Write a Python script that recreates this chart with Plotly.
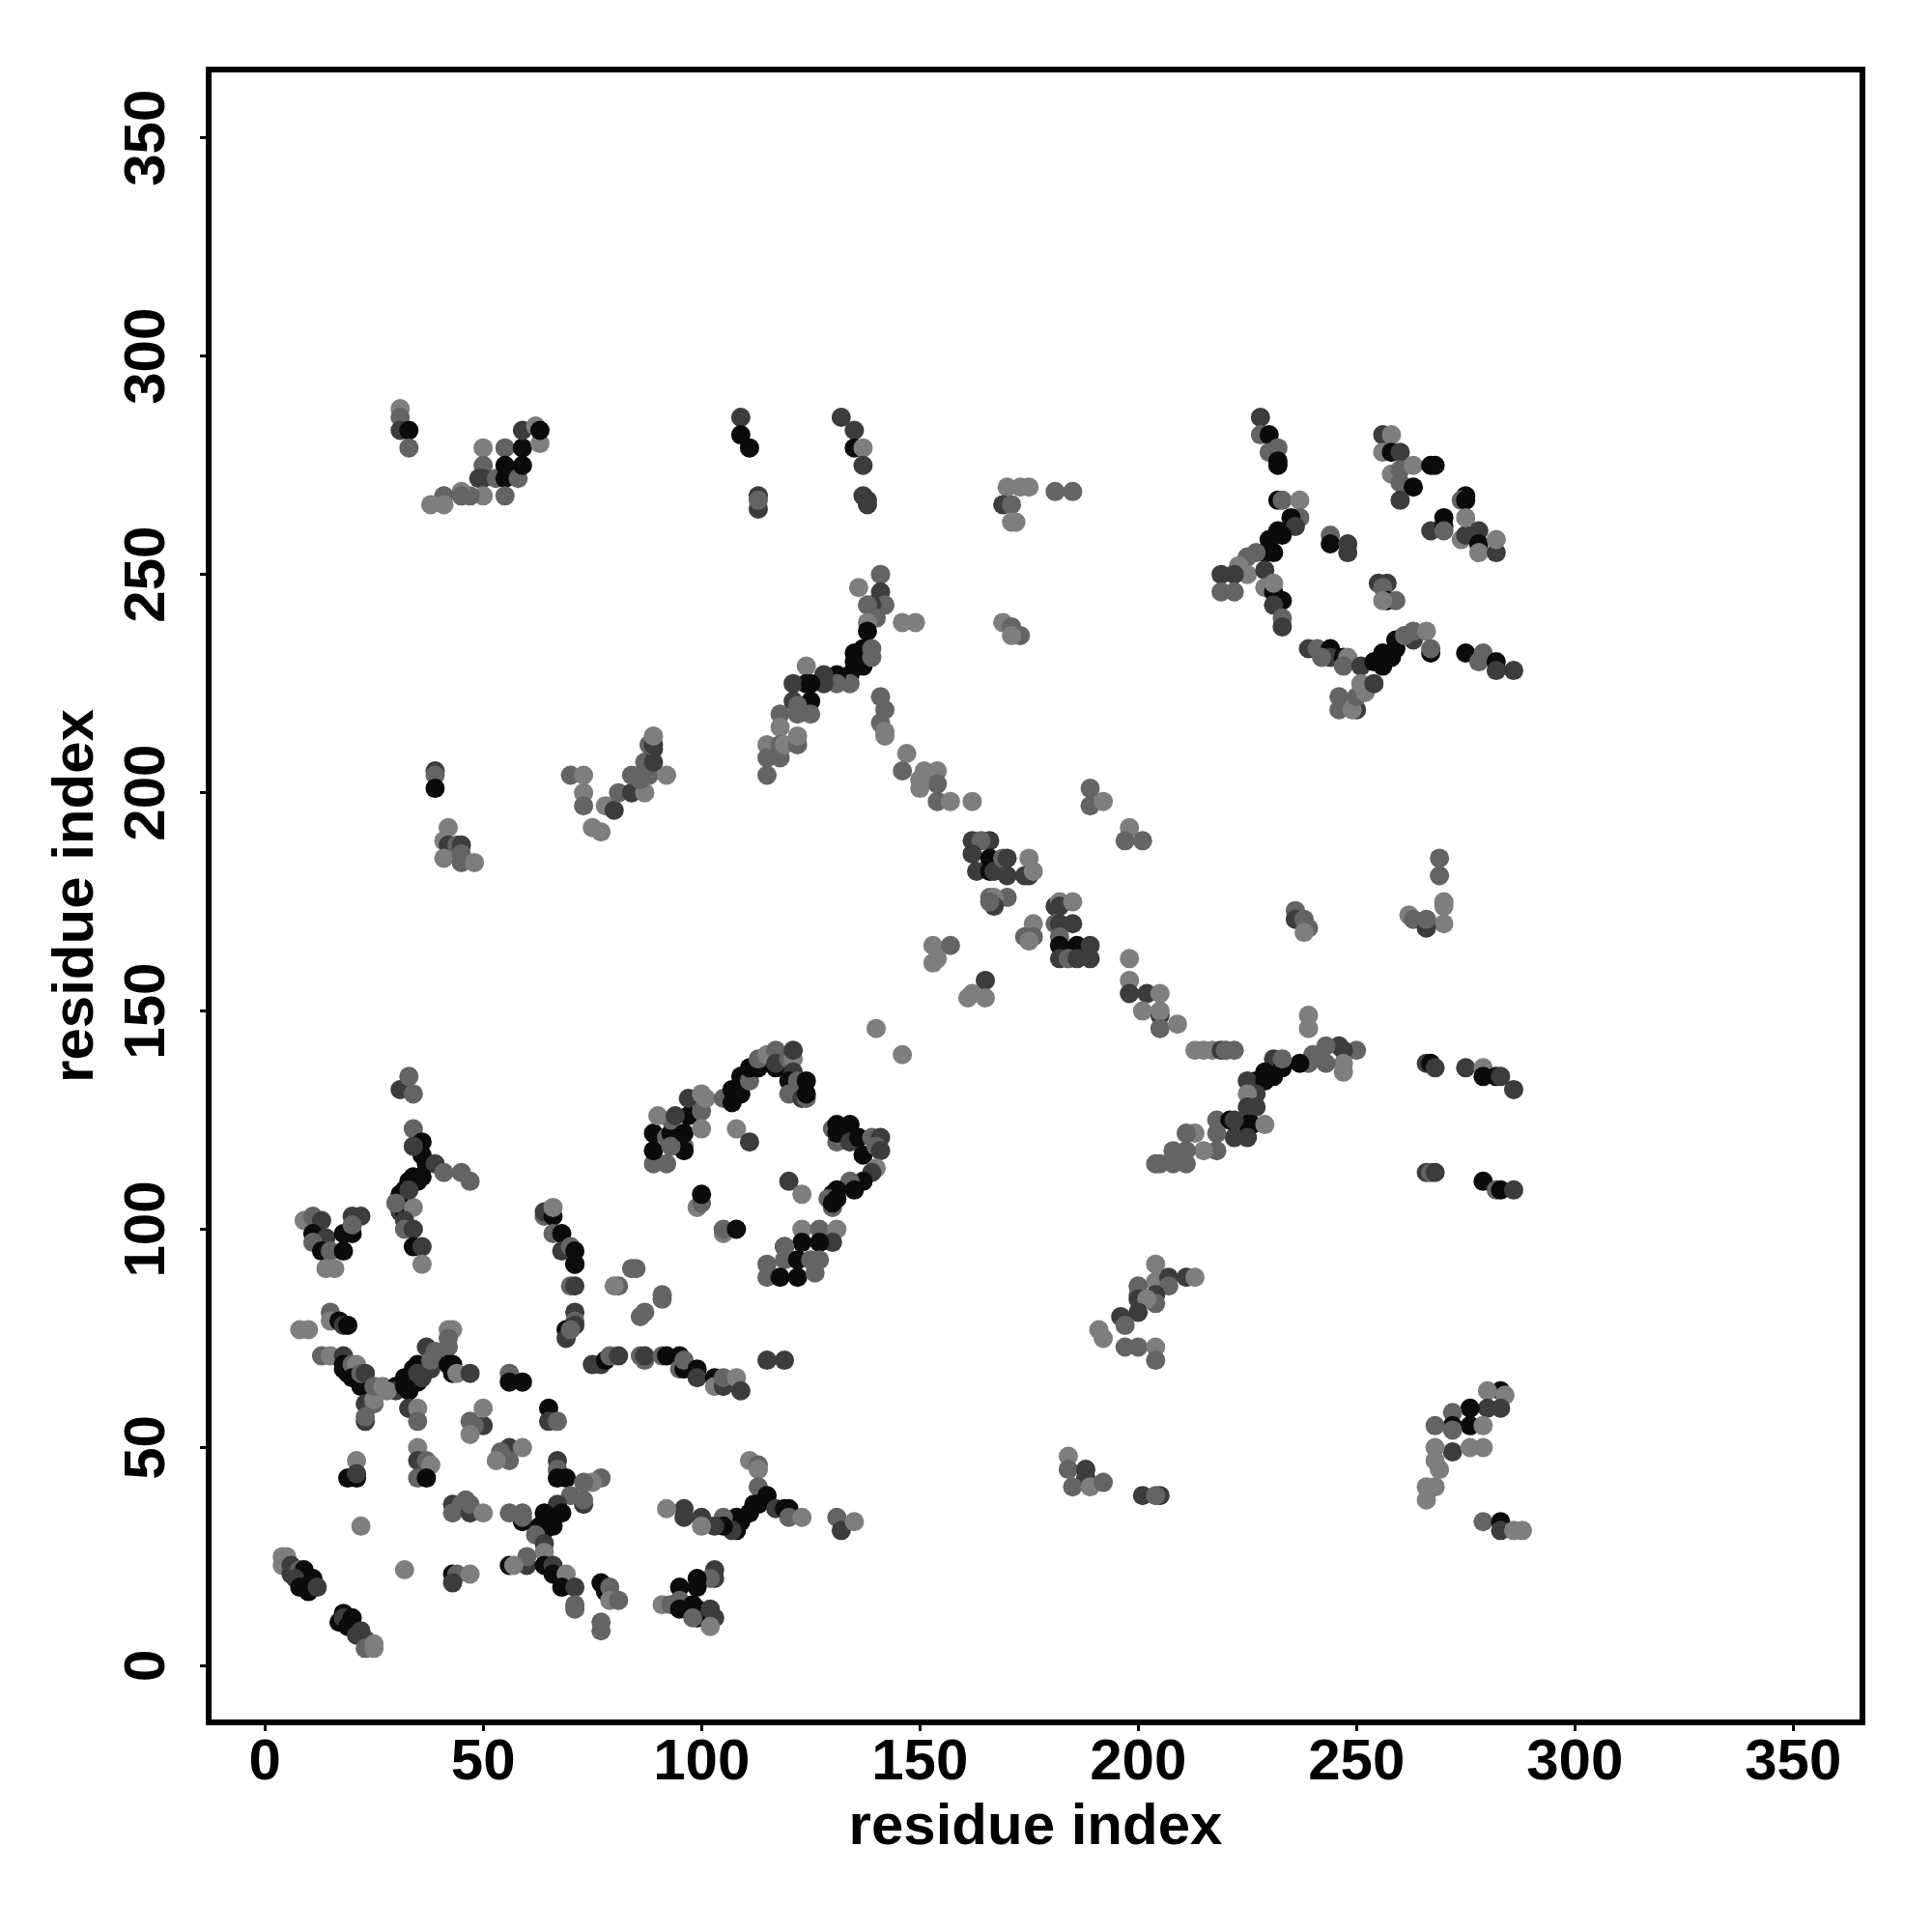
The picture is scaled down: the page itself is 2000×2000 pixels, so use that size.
import plotly.graph_objects as go

K, D, M, L = 0.08, 0.45, 0.75, 0.95

tick_values = [0, 50, 100, 150, 200, 250, 300, 350]
axis_title = "residue index"

c_low_a = [(4,25,L),(5,25,L),(4,23,L),(6,23,D),(6,21,D),(8,22,M),(9,22,K),(7,20,D),(11,20,K),(8,18,K),(10,17,K),(12,18,D),
 (17,10,K),(18,12,K),(18,11,D),(20,11,K),(19,9,K),(22,8,D),(21,7,D),(23,6,D),(23,4,M),(25,5,L),(25,4,L),
 (22,32,L),(32,22,L),(43,21,K),(44,21,M),(43,19,D),(47,21,L)]
c_low_b = [(19,43,K),(21,47,L),(21,43,K),(21,44,D),(35,50,L),(35,47,D),(37,47,M),(38,46,L),(35,43,M),(37,43,K),
 (43,37,D),(43,35,M),(45,37,M),(46,38,M),(47,35,D),(47,37,M),(50,35,L)]
c_low_c = [(56,50,D),(54,49,M),(59,50,L),(56,47,M),(53,47,L),(47,56,M),(50,55,D),(48,55,M),(47,53,L),(50,59,L),
 (56,67,M),(56,65,K),(59,65,K),(65,59,K),(65,56,D),(67,56,M)]
c_star = [(67,47,D),(67,45,M),(67,43,K),(69,43,K),(77,43,M),(75,42,L),(73,42,M),(73,37,D),(70,39,M),(73,38,M),(67,37,D),(68,35,K),
 (66,34,K),(64,35,K),(63,32,K),(64,31,K),(66,32,K),(62,30,M),(64,28,D),(59,33,K),(59,35,M),(56,35,M),(59,34,M),(64,26,L),
 (60,23,D),(60,25,M),(56,23,K),(57,23,L),(64,23,K),(66,23,D),(66,21,K),(69,21,L),(68,18,K),(71,18,D),(71,14,M),(71,13,M),(77,10,M),(77,8,M),
 (77,19,K),(78,17,K),(79,18,M),(79,15,L),(81,15,M)]
c_left_x = [(15,81,M),(15,79,L),(8,77,L),(10,77,L),(17,79,K),(18,78,D),(19,78,K),(13,71,M),(15,71,L),(18,71,D),(18,69,K),(18,68,K),(19,67,K),
 (20,69,M),(21,69,L),(20,66,K),(22,64,K),(22,67,M),(23,67,D),(23,60,D),(25,60,M),(25,61,L),(25,64,M),(27,64,L),(23,56,D),(23,57,M),
 (30,64,K),(30,63,D),(28,63,L),(32,66,K),(32,64,K),(33,63,K),(34,68,K),(34,66,K),(35,65,K),(35,69,K),(35,67,D),(36,66,D),(37,73,D),(38,68,D),
 (38,70,M),(39,72,M),(42,77,L),(43,77,L),(42,73,M),(42,75,M),(42,69,K),(43,69,K),(43,67,K),(44,67,L),(47,67,D),
 (33,59,K),(33,59,D),(35,59,L),(35,56,M)]
c_left_y = [(9,102,L),(11,103,M),(13,102,D),(11,99,K),(14,98,D),(11,97,M),(13,95,K),(15,95,M),(18,95,K),(18,99,K),(20,99,K),(20,103,D),(22,103,D),(20,101,M),(14,91,L),(16,91,L),
 (31,104,D),(32,104,K),(34,105,L),(32,102,D),(32,100,M),(34,100,D),(34,96,K),(36,96,D),(36,92,L)]
c_upper = [(31,132,D),(33,135,M),(34,131,M),(34,123,M),(35,120,M),(36,120,K),(36,117,K),(34,119,D),(37,115,K),(39,115,D),(41,113,M),(45,113,M),(47,111,M),
 (34,112,K),(36,112,K),(33,111,K),(31,108,K),(32,109,K),(35,111,K),(33,109,D),(30,106,M)]
c_mid_left = [(64,103,M),(64,104,D),(66,103,K),(66,105,L),(66,99,M),(68,99,K),(68,95,D),(70,96,M),(71,95,K),(71,92,D),(71,92,K),(70,87,M),(71,87,D),
 (71,81,D),(71,79,M),(71,78,D),(69,77,K),(69,75,D),(70,77,M),(85,91,M),(84,91,M),(81,87,M),(80,87,L),(91,85,M),(91,84,M),(87,81,M),(86,80,M)]
c_row70 = [(75,69,D),(77,69,D),(78,70,K),(79,71,M),(81,71,D),(86,71,M),(87,70,M),(87,71,D),(91,71,M),(92,71,K),(95,71,K),(95,68,M),(96,68,K),(96,70,M),
 (99,68,K),(99,66,D),(103,66,K),(103,64,L),(105,64,D),(105,66,M),(108,66,L),(109,63,D),(115,70,D),(119,70,D)]
c_row35 = [(111,47,L),(113,46,M),(113,45,L),(113,41,M),(115,39,K),(113,37,K),(112,37,K),(111,35,K),(109,33,K),(108,34,K),(108,31,K),(107,31,D),(105,34,M),(105,32,K),
 (103,32,D),(100,34,D),(100,32,L),(96,36,D),(96,34,D),(92,36,L),(117,36,D),(119,36,K),(120,36,K),(120,34,M),(123,34,L),(131,34,M),(132,31,D),(135,33,L)]
c_row15 = [(103,22,D),(103,20,D),(102,20,M),(99,20,K),(99,18,K),(95,18,K),(95,15,M),(91,14,L),(93,14,M),(95,13,K),(98,14,K),(99,13,K),(99,11,K),(98,11,M),(102,13,D),(103,11,D),(102,9,L)]
c_loop_a = [(89,115,M),(92,115,M),(89,118,K),(89,122,K),(92,121,M),(93,122,K),(93,125,M),(90,126,L),(96,119,M),(96,118,K),(93,119,M),(96,122,K),(97,126,K),(97,130,D),(94,126,D),
 (100,127,M),(100,123,L),(100,131,L),(101,130,L),(105,130,M),(107,129,K),(107,132,K),(109,131,K),(109,135,K),(111,134,M),(111,137,K),(113,137,K),(113,139,M),(115,140,L),
 (117,141,M),(117,137,K),(117,138,D),(120,139,M),(121,139,L),(121,141,D),(121,136,D),(120,134,K),(122,134,M),(120,131,M),(123,130,D),(124,130,M),(124,134,K),(124,131,K),(108,123,L),(111,120,D),(140,146,L),(146,140,L)]
c_loop_b = [(130,123,M),(131,124,K),(134,124,K),(131,120,M),(131,122,K),(134,120,D),(136,121,K),(137,117,K),(139,121,M),(141,121,D),(140,119,M),(141,118,D),(140,114,L),(139,113,D),
 (137,111,K),(134,111,M),(135,109,K),(131,109,K),(130,108,K),(129,107,M),(131,107,K),(130,105,M),(130,106,K),
 (120,111,D),(123,108,L),(99,105,L),(100,106,M),(100,108,K),(105,99,L),(105,100,M),(108,100,K)]
c_loop_c = [(123,100,L),(127,100,M),(131,100,L),(130,97,D),(127,97,K),(123,97,K),(119,96,K),(119,96,M),(119,93,M),(122,93,K),(125,93,M),(127,93,M),(115,92,M),(115,89,M),(118,89,K),(122,89,K),(126,90,M)]
c_top_a = [(31,288,L),(31,286,M),(31,283,D),(33,283,K),(33,279,M),(50,279,L),(50,275,M),(49,272,D),(50,272,D),(50,268,L),(47,268,M),(45,269,L),(45,268,M),(41,268,M),(41,266,L),(38,266,L),
 (53,272,M),(55,279,M),(55,275,K),(55,272,K),(55,268,M),(58,272,M),(59,275,K),(59,279,K),(59,283,D),(62,284,L),(63,280,L),(63,283,K)]
c_top_b = [(109,286,D),(109,282,K),(111,279,K),(113,268,D),(113,265,D),(113,267,M),(132,286,D),(135,283,D),(135,279,K),(137,279,L),(137,275,D),(137,268,D),(138,267,D),(138,266,D),
 (170,270,L),(175,270,L),(173,270,L),(169,266,D),(171,266,M),(171,262,L),(172,262,L),(181,269,M),(185,269,M)]
c_diag_a = [(39,205,D),(39,204,M),(39,201,K),(42,192,L),(41,189,L),(42,188,D),(44,188,M),(45,188,D),(41,185,L),(45,186,M),(45,184,M),(48,184,L),
 (70,204,M),(73,204,L),(73,200,L),(73,197,M),(75,192,L),(77,191,L),(78,197,L),(80,196,D),(81,200,M),(84,200,D),(87,200,L),(84,204,M),(86,203,M),(88,204,M),(92,204,L),(87,207,M),(89,207,D),(89,210,D),(88,211,M),(89,211,D),(89,213,L)]
c_diag_b = [(141,250,M),(136,247,L),(141,246,D),(142,243,M),(139,243,D),(138,243,M),(140,240,M),(138,239,L),(138,237,K),(146,239,L),(149,239,L),(169,239,L),(171,238,M),(173,236,M),(171,236,L),
 (137,233,K),(135,232,K),(137,229,K),(135,230,K),(134,227,K),(134,225,M),(131,227,K),(131,225,M),(128,225,D),(128,227,D),(139,233,M),(139,231,M),(124,229,L),(124,225,K),(121,225,D),(125,225,K),(125,221,K),(125,218,M),
 (121,221,D),(122,220,M),(122,218,M),(118,218,M),(118,215,L),(115,211,L),(115,208,M),(118,208,M),(118,211,M),(119,211,L),(122,211,M),(122,213,L),(115,204,M)]
c_diag_c = [(141,222,M),(142,219,M),(141,216,M),(142,214,L),(142,213,L),(147,209,L),(146,205,M),(151,205,L),(154,205,L),(154,202,M),(150,203,L),(150,201,L),(154,198,M),(157,198,L),(162,198,L),
 (189,201,M),(189,197,M),(192,198,L),(198,192,L),(197,189,M),(201,189,M)]
c_diag_d = [(162,189,D),(166,189,D),(164,189,M),(162,186,D),(163,182,D),(166,185,K),(166,182,K),(167,182,D),(169,185,M),(170,185,D),(170,181,D),(175,185,L),(174,181,D),(175,181,D),(176,182,L),
 (166,176,M),(170,176,M),(167,176,L),(167,174,D),(166,175,M),(181,174,D),(182,175,L),(182,174,D),(185,175,L),(181,170,M),(182,170,D),(185,170,D),(182,167,M),(182,165,K),(186,165,K),(189,165,D),(182,162,D),(184,162,M),(186,162,D),(189,162,D),
 (176,170,L),(176,167,M),(174,167,M),(175,166,L),(153,165,L),(157,165,M),(154,162,L),(153,161,L),(165,157,D),(165,153,L),(161,153,L),(162,154,L)]
c_diag_e = [(198,162,L),(198,157,L),(198,154,D),(202,154,D),(205,154,L),(201,150,L),(205,149,D),(205,150,L),(205,146,M),(209,147,L),(213,141,L),(215,141,L),(217,141,L),(219,141,D),(220,141,M),(222,141,M)]
c_right_mid = [(236,173,M),(236,171,D),(238,171,M),(239,169,M),(238,168,L),(269,185,M),(269,181,M),(270,175,L),(270,174,L),(270,170,L),(262,172,L),(263,171,M),(266,169,D),(266,171,M),
 (239,149,L),(239,146,L),(250,141,M),(246,142,D),(247,141,D),(243,142,M),(247,138,L),(247,136,L),(243,138,M),(240,140,M),(239,138,M),(237,138,K)]
c_ridge = [(231,139,D),(233,137,K),(233,139,M),(231,135,K),(229,136,K),(227,134,K),(225,134,D),(229,134,K),(227,131,D),(225,131,L),(227,128,D),(225,128,D),(226,124,K),(225,124,K),(229,124,L),(225,121,D),(222,121,D),
 (218,125,M),(221,125,K),(222,125,D),(218,122,M),(218,118,M),(215,118,L),(213,122,L),(211,122,M),(211,118,M),(208,118,M),(208,115,M),(211,115,M),(204,115,M),(205,115,M)]
c_right_low = [(266,138,D),(267,138,K),(268,137,D),(275,137,D),(279,137,L),(279,135,K),(282,135,K),(283,135,D),(286,132,D),(266,113,D),(267,113,M),(268,113,D),(279,111,K),(282,109,M),(283,109,K),(286,109,D)]
c_bottom_mid = [(204,92,L),(204,88,L),(207,89,D),(207,87,M),(211,89,D),(213,89,L),(200,87,M),(200,85,M),(200,84,D),(204,85,D),(204,83,M),(202,84,L),(196,80,D),(200,81,D),(197,78,M),(191,77,L),(192,75,L),(197,73,M),(200,73,M),(204,73,L),(204,70,M),
 (184,48,L),(184,45,M),(188,45,D),(188,43,D),(185,41,M),(189,41,L),(192,42,M),(201,39,D),(205,39,D),(204,39,M)]
c_bottom_right = [(283,63,K),(284,62,L),(280,63,L),(280,59,D),(283,59,D),(276,59,K),(276,55,K),(272,58,M),(272,55,K),(268,55,M),(279,55,L),(272,54,M),(272,49,D),(268,50,L),(276,50,L),(279,50,L),(268,47,L),(269,45,L),(266,41,L),(268,41,L),(266,38,L),
 (279,33,M),(283,33,K),(283,31,D),(286,31,L),(288,31,L)]
c_ur_a = [(228,286,D),(228,282,M),(230,282,K),(230,278,M),(232,279,M),(232,275,K),(232,276,K),(232,267,K),(233,267,M),(237,267,L),(237,263,M),(235,263,K),(236,261,D),(232,260,K),(233,259,K),(230,258,K),(231,255,K),(229,255,K),
 (227,255,M),(225,254,M),(223,252,L),(225,250,L),(229,251,D),(222,250,D),(219,250,D),(219,246,M),(222,246,M),(229,247,L),(231,246,K),(231,248,L),(233,244,K),(231,243,D),(233,240,M),(233,238,D)]
c_ur_b = [(244,259,M),(244,257,K),(248,257,D),(248,255,D),(256,282,D),(258,282,L),(256,278,L),(258,278,K),(260,278,D),(258,273,L),(260,274,M),(263,275,L),(260,271,M),(263,270,K),(260,267,D),(267,275,K),(268,275,K),
 (275,268,K),(274,267,M),(275,267,K),(267,260,D),(270,263,K),(270,261,K),(270,260,M),(274,258,L),(275,259,D),(275,263,L),(278,260,D),(278,257,K),(278,255,L),(282,255,D),(282,258,L)]
c_ur_c = [(255,248,D),(257,248,D),(256,247,M),(257,244,K),(259,244,M),(256,244,L),(239,233,D),(241,233,M),(244,233,K),(244,231,D),(242,231,M),(247,231,K),(248,231,L),(247,229,M),(251,229,D),
 (246,222,M),(246,219,M),(250,219,D),(249,219,L),(250,222,M),(252,223,L),(251,225,L),(254,225,D),(254,230,K),(256,229,K),(256,232,K),(258,231,K),(259,233,K),(259,235,K),(263,235,D),(263,237,M),(261,236,M),(266,237,L),(267,232,K),(267,233,M),
 (275,232,K),(279,232,M),(278,230,M),(282,230,K),(282,228,D),(286,228,D)]

contacts = (c_low_a + c_low_b + c_low_c + c_star + c_left_x + c_left_y + c_upper + c_mid_left + c_row70 + c_row35 + c_row15
            + c_loop_a + c_loop_b + c_loop_c + c_top_a + c_top_b + c_diag_a + c_diag_b + c_diag_c + c_diag_d + c_diag_e
            + c_right_mid + c_ridge + c_right_low + c_bottom_mid + c_bottom_right + c_ur_a + c_ur_b + c_ur_c)

fig = go.Figure(go.Scatter(
    x=[p[0] for p in contacts], y=[p[1] for p in contacts], mode="markers",
    marker=dict(size=20, color=[p[2] for p in contacts], cmin=0, cmax=1, showscale=False,
                colorscale=[[0, "#000000"], [1, "#858585"]], line=dict(width=0)),
    hoverinfo="skip"))

FONT = "Liberation Sans, Arial, sans-serif"
axis = dict(range=[-12.2, 365.2], tickmode="array", tickvals=tick_values, showgrid=False, zeroline=False,
            showline=True, mirror=True, linecolor="#000000", linewidth=6,
            ticks="outside", ticklen=6, tickwidth=3, tickcolor="#000000",
            tickfont=dict(family=FONT, size=60, color="#000000", weight="bold"))
title_font = dict(family=FONT, size=60, color="#000000", weight="bold")
fig.update_layout(width=2000, height=2000, margin=dict(l=219, r=75, t=75, b=220, pad=0, autoexpand=False),
                  paper_bgcolor="#ffffff", plot_bgcolor="#ffffff", showlegend=False,
                  font=dict(family=FONT),
                  xaxis=dict(axis, ticklabelstandoff=-22, title=dict(text=axis_title, standoff=10, font=title_font)),
                  yaxis=dict(axis, tickangle=-90, ticklabelstandoff=13, ticklabelshift=9, range=[-12.3, 365.0],
                             title=dict(text=axis_title, standoff=2, font=title_font)))
fig.write_html("out.html", config={"displayModeBar": False},
               post_script="document.body.style.margin='0';window.dispatchEvent(new Event('resize'));")
